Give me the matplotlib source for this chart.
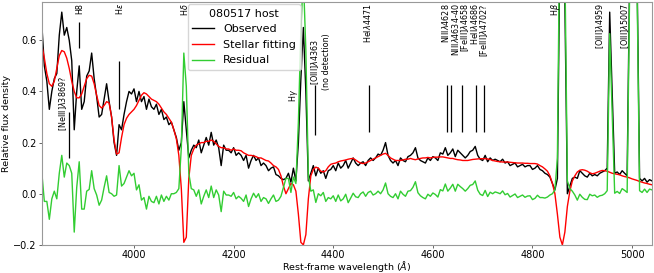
import numpy as np
import matplotlib
matplotlib.use("Agg")
import matplotlib.pyplot as plt

# rest-frame wavelength grid (Angstrom)
wave = np.arange(3815, 5041, 5)

# observed host spectrum (relative flux)
observed = np.array([
    0.66, 0.50, 0.44, 0.33, 0.40, 0.45, 0.47, 0.62, 0.71, 0.62,     # 3815
    0.65, 0.60, 0.52, 0.25, 0.40, 0.50, 0.33, 0.36, 0.46, 0.48,     # 3865
    0.55, 0.45, 0.38, 0.30, 0.31, 0.37, 0.43, 0.36, 0.30, 0.20,     # 3915
    0.15, 0.27, 0.25, 0.31, 0.36, 0.40, 0.39, 0.41, 0.36, 0.40,     # 3965
    0.36, 0.38, 0.33, 0.37, 0.34, 0.33, 0.35, 0.31, 0.33, 0.29,     # 4015
    0.30, 0.27, 0.28, 0.25, 0.22, 0.17, 0.20, 0.36, 0.25, 0.14,     # 4065
    0.17, 0.19, 0.18, 0.21, 0.16, 0.19, 0.22, 0.19, 0.24, 0.19,     # 4115
    0.21, 0.18, 0.11, 0.19, 0.17, 0.17, 0.16, 0.18, 0.15, 0.16,     # 4165
    0.15, 0.13, 0.15, 0.10, 0.13, 0.15, 0.13, 0.14, 0.11, 0.12,     # 4215
    0.11, 0.09, 0.10, 0.105, 0.075, 0.07, 0.06, 0.055, 0.06, 0.08,  # 4265
    0.045, 0.10, 0.05, 0.20, 0.45, 0.65, 0.40, 0.05, 0.08, 0.11,    # 4315
    0.07, 0.10, 0.08, 0.09, 0.06, 0.09, 0.095, 0.11, 0.09, 0.12,    # 4365
    0.10, 0.11, 0.13, 0.10, 0.12, 0.14, 0.12, 0.11, 0.12, 0.125,    # 4415
    0.11, 0.13, 0.14, 0.13, 0.14, 0.155, 0.15, 0.17, 0.20, 0.15,    # 4465
    0.13, 0.12, 0.13, 0.11, 0.14, 0.13, 0.125, 0.145, 0.15, 0.16,   # 4515
    0.18, 0.14, 0.13, 0.125, 0.12, 0.14, 0.13, 0.145, 0.14, 0.13,   # 4565
    0.16, 0.155, 0.18, 0.15, 0.16, 0.175, 0.145, 0.17, 0.16, 0.15,  # 4615
    0.14, 0.15, 0.165, 0.17, 0.185, 0.15, 0.135, 0.13, 0.15, 0.125, # 4665
    0.14, 0.13, 0.135, 0.13, 0.125, 0.135, 0.12, 0.125, 0.11, 0.115,    # 4715
    0.12, 0.105, 0.11, 0.115, 0.105, 0.11, 0.11, 0.095, 0.10, 0.11,     # 4765
    0.095, 0.09, 0.08, 0.075, 0.065, 0.04, 0.015, 0.06, 0.95, 1.6,      # 4815
    0.75, 0.0, 0.03, 0.06, 0.065, 0.06, 0.09, 0.08, 0.07, 0.065,        # 4865
    0.08, 0.07, 0.075, 0.07, 0.08, 0.085, 0.09, 0.10, 0.71, 0.40,       # 4915
    0.08, 0.085, 0.075, 0.09, 0.08, 0.07, 0.85, 2.2, 2.5, 0.85,         # 4965
    0.06, 0.05, 0.06, 0.045, 0.055, 0.05,                               # 5015
])

# stellar population fit
stellar = np.array([
    0.58, 0.53, 0.47, 0.43, 0.42, 0.44, 0.49, 0.54, 0.56, 0.555,        # 3815
    0.53, 0.49, 0.44, 0.40, 0.375, 0.375, 0.39, 0.42, 0.45, 0.463,      # 3865
    0.46, 0.43, 0.385, 0.345, 0.335, 0.345, 0.36, 0.355, 0.30, 0.21,    # 3915
    0.155, 0.16, 0.22, 0.27, 0.295, 0.31, 0.32, 0.33, 0.345, 0.365,     # 3965
    0.385, 0.395, 0.39, 0.38, 0.37, 0.365, 0.36, 0.35, 0.335, 0.32,     # 4015
    0.31, 0.295, 0.28, 0.25, 0.215, 0.15, 0.02, -0.19, -0.17, 0.06,     # 4065
    0.15, 0.175, 0.19, 0.195, 0.20, 0.20, 0.205, 0.205, 0.21, 0.205,    # 4115
    0.195, 0.185, 0.18, 0.18, 0.175, 0.175, 0.17, 0.175, 0.17, 0.17,    # 4165
    0.168, 0.16, 0.155, 0.15, 0.15, 0.148, 0.145, 0.14, 0.14, 0.135,    # 4215
    0.13, 0.128, 0.12, 0.11, 0.105, 0.095, 0.07, 0.03, 0.0, 0.02,       # 4265
    0.04, 0.035, 0.01, -0.08, -0.19, -0.2, -0.16, -0.02, 0.07, 0.095,   # 4315
    0.104, 0.1, 0.088, 0.085, 0.09, 0.105, 0.115, 0.118, 0.12, 0.125,   # 4365
    0.128, 0.13, 0.132, 0.135, 0.137, 0.138, 0.132, 0.125, 0.12, 0.118, # 4415
    0.12, 0.125, 0.13, 0.135, 0.14, 0.145, 0.15, 0.155, 0.158, 0.15,    # 4465
    0.14, 0.135, 0.13, 0.13, 0.13, 0.132, 0.135, 0.135, 0.138, 0.135,   # 4515
    0.133, 0.136, 0.138, 0.14, 0.14, 0.142, 0.14, 0.142, 0.143, 0.143,  # 4565
    0.144, 0.144, 0.142, 0.14, 0.138, 0.138, 0.135, 0.133, 0.132, 0.13, # 4615
    0.13, 0.13, 0.132, 0.134, 0.135, 0.136, 0.137, 0.137, 0.137, 0.136, # 4665
    0.134, 0.13, 0.128, 0.126, 0.125, 0.124, 0.124, 0.124, 0.123, 0.122,    # 4715
    0.121, 0.12, 0.12, 0.12, 0.119, 0.119, 0.118, 0.118, 0.118, 0.116,      # 4765
    0.11, 0.105, 0.097, 0.088, 0.07, 0.04, 0.0, -0.08, -0.17, -0.2,         # 4815
    -0.15, -0.05, 0.01, 0.05, 0.07, 0.085, 0.092, 0.094, 0.092, 0.088,      # 4865
    0.082, 0.078, 0.08, 0.084, 0.088, 0.091, 0.09, 0.088, 0.084, 0.08,      # 4915
    0.078, 0.076, 0.074, 0.07, 0.067, 0.065, 0.062, 0.058, 0.055, 0.052,    # 4965
    0.048, 0.045, 0.042, 0.04, 0.037, 0.035,                                # 5015
])

residual = observed - stellar

# line identifications
line_labels = ["[NeIII]$\\lambda$3869?", "H8", "H$\\epsilon$", "H$\\delta$", "H$\\gamma$",
               "[OIII]$\\lambda$4363\n(no detection)", "HeI$\\lambda$4471", "NIII$\\lambda$4628",
               "NIII$\\lambda$4634-40", "[FeIII]$\\lambda$4658", "HeII$\\lambda$4686",
               "[FeIII]$\\lambda$4702?", "H$\\beta$", "[OIII]$\\lambda$4959", "[OIII]$\\lambda$5007"]
line_waves = [3869, 3889, 3970, 4102, 4340, 4363, 4471, 4628, 4637, 4658, 4686, 4702,
              4861, 4959, 5007]
# which lines get a marker bar
has_bar = [True, True, True, False, False, True, True, True, True, True, True, True,
           False, False, False]

# layout of the labels: x shift, y, vertical alignment, bar span
text_dx = [-12, 2, 0, 0, -20, 11, -2, -3, 8, 6, -3, 0, -15, -23, -21]
text_y = [0.46, 0.745, 0.745, 0.745, 0.41, 0.405, 0.745, 0.745, 0.745, 0.745, 0.745,
          0.745, 0.745, 0.745, 0.745]
text_va = ["top", "top", "top", "top", "top", "bottom", "top", "top", "top", "top",
           "top", "top", "top", "top", "top"]
bar_span = [(0.14, 0.32), (0.57, 0.67), (0.33, 0.52), None, None, (0.23, 0.425),
            (0.24, 0.425), (0.24, 0.425), (0.24, 0.425), (0.24, 0.425), (0.24, 0.425),
            (0.24, 0.425), None, None, None]


fig = plt.figure(figsize=(6.54, 2.73), dpi=100)
ax = fig.add_axes([0.064, 0.103, 0.933, 0.890])

ax.plot(wave, observed, color="k", lw=1.0, label="Observed")
ax.plot(wave, stellar, color="red", lw=1.0, label="Stellar fitting")
ax.plot(wave, residual, color="limegreen", lw=1.0, label="Residual")

for i in range(len(line_labels)):
    ax.text(line_waves[i] + text_dx[i], text_y[i], line_labels[i], rotation=90,
            ha="center", va=text_va[i], fontsize=5.8, linespacing=1.1)
    if has_bar[i]:
        ax.vlines(line_waves[i], bar_span[i][0], bar_span[i][1], color="k", lw=0.9)

ax.set_xlim(3815, 5040)
ax.set_ylim(-0.2, 0.75)
ax.set_xticks([4000, 4200, 4400, 4600, 4800, 5000])
ax.set_yticks([-0.2, 0.0, 0.2, 0.4, 0.6])
ax.tick_params(labelsize=7, length=2.5, width=0.7, color="0.4", pad=1.5)
for s in ax.spines.values():
    s.set_color("0.6")
    s.set_linewidth(0.8)

ax.set_xlabel(r"Rest-frame wavelength ($\AA$)", fontsize=6.8, labelpad=-1)
ax.set_ylabel("Relative flux density", fontsize=6.8, labelpad=1)

ax.legend(title="080517 host", fontsize=8, title_fontsize=8, loc="upper left",
          bbox_to_anchor=(0.239, 0.99), borderaxespad=0)

fig.savefig("out.png", dpi=100)
